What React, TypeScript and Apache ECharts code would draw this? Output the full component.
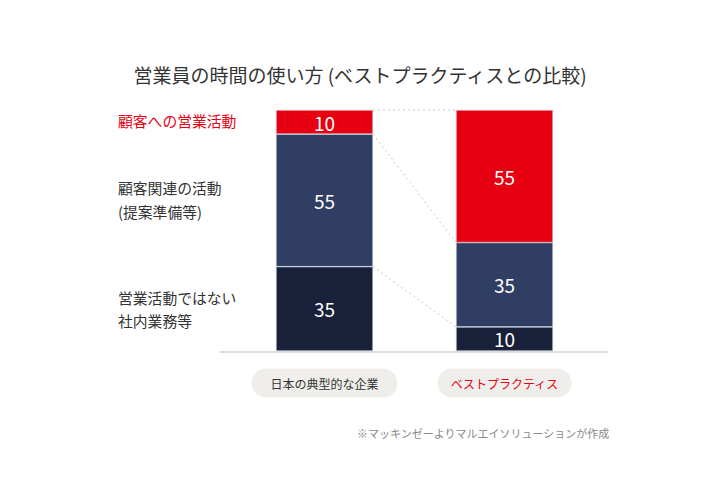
import React, { useEffect, useRef } from "react";
import * as echarts from "echarts";

const categories = ["日本の典型的な企業", "ベストプラクティス"];
const nonSales = [35, 10];
const related = [55, 35];
const customerSales = [10, 55];
const seriesNames = ["営業活動ではない社内業務等", "顧客関連の活動(提案準備等)", "顧客への営業活動"];
const titleText = "営業員の時間の使い方 (ベストプラクティスとの比較)";
const noteText = "※マッキンゼーよりマルエイソリューションが作成";

const FONT = "'Noto Sans CJK JP', 'Noto Sans', sans-serif";
const RED = "#e60012";
const MID = "#2f3e62";
const DARK = "#18203a";
const BAR_W = 97;

export default function App() {
  const ref = useRef<HTMLDivElement>(null);
  useEffect(() => {
    document.body.style.margin = "0";
    const chart = echarts.init(ref.current!, null, { renderer: "svg" });
    const label = {
      show: true,
      position: "inside",
      color: "#ffffff",
      fontSize: 19,
      fontFamily: FONT,
    };
    const mk = (name: string, data: number[], color: string) => ({
      name,
      type: "bar",
      stack: "total",
      data,
      barWidth: BAR_W,
      label,
      itemStyle: { color, borderColor: "#c9ced8", borderWidth: 0.6 },
      emphasis: { disabled: true },
    });
    const pill = {
      fontSize: 12,
      fontFamily: FONT,
      backgroundColor: "#efeeeb",
      borderRadius: 15,
      height: 14,
      lineHeight: 14,
    };
    const option: any = {
      animation: false,
      textStyle: { fontFamily: FONT },
      title: {
        text: titleText,
        left: "center",
        top: 60,
        textStyle: { fontSize: 19, fontWeight: "normal", color: "#333", fontFamily: FONT },
      },
      grid: { left: 234.5, right: 125.5, top: 110, bottom: 129 },
      xAxis: {
        type: "category",
        data: categories,
        axisLine: { show: false },
        axisTick: { show: false },
        axisLabel: {
          margin: 25,
          formatter: (v: string) => (v === categories[1] ? `{b|${v}}` : `{a|${v}}`),
          rich: {
            a: { ...pill, color: "#333333", padding: [8, 19, 7, 19] },
            b: { ...pill, color: RED, padding: [8, 13, 7, 13] },
          },
        },
      },
      yAxis: { type: "value", min: 0, max: 100, show: false },
      series: [
        mk(seriesNames[0], nonSales, DARK),
        mk(seriesNames[1], related, MID),
        mk(seriesNames[2], customerSales, RED),
      ],
    };
    chart.setOption(option);

    const c1 = [nonSales[0], nonSales[0] + related[0], nonSales[0] + related[0] + customerSales[0]];
    const c2 = [nonSales[1], nonSales[1] + related[1], nonSales[1] + related[1] + customerSales[1]];
    const graphics: any[] = [];
    for (let i = 0; i < 3; i++) {
      const p1 = chart.convertToPixel({ gridIndex: 0 }, [0, c1[i]]) as number[];
      const p2 = chart.convertToPixel({ gridIndex: 0 }, [1, c2[i]]) as number[];
      graphics.push({
        type: "line",
        shape: { x1: p1[0] + BAR_W / 2, y1: p1[1], x2: p2[0] - BAR_W / 2, y2: p2[1] },
        style: { stroke: "#c8c8c8", lineWidth: 1, lineDash: [2, 3] },
        silent: true,
      });
    }
    const base = chart.convertToPixel({ gridIndex: 0 }, [0, 0]) as number[];
    graphics.push({
      type: "line",
      shape: { x1: 220, y1: base[1] + 1, x2: 608, y2: base[1] + 1 },
      style: { stroke: "#dddddd", lineWidth: 2 },
      silent: true,
    });
    const lbl = (text: string, y: number, color = "#333333") => ({
      type: "text",
      left: 118,
      top: y,
      style: { text, fill: color, fontSize: 14.8, fontFamily: FONT },
      silent: true,
    });
    graphics.push(lbl("顧客への営業活動", 113, RED));
    graphics.push(lbl("顧客関連の活動", 180));
    graphics.push(lbl("(提案準備等)", 204));
    graphics.push(lbl("営業活動ではない", 290));
    graphics.push(lbl("社内業務等", 313));
    graphics.push({
      type: "text",
      right: 110,
      top: 427,
      style: { text: noteText, fill: "#888888", fontSize: 11, fontFamily: FONT },
      silent: true,
    });
    chart.setOption({ graphic: graphics });

    return () => chart.dispose();
  }, []);
  return <div ref={ref} style={{ width: 720, height: 480 }} />;
}
